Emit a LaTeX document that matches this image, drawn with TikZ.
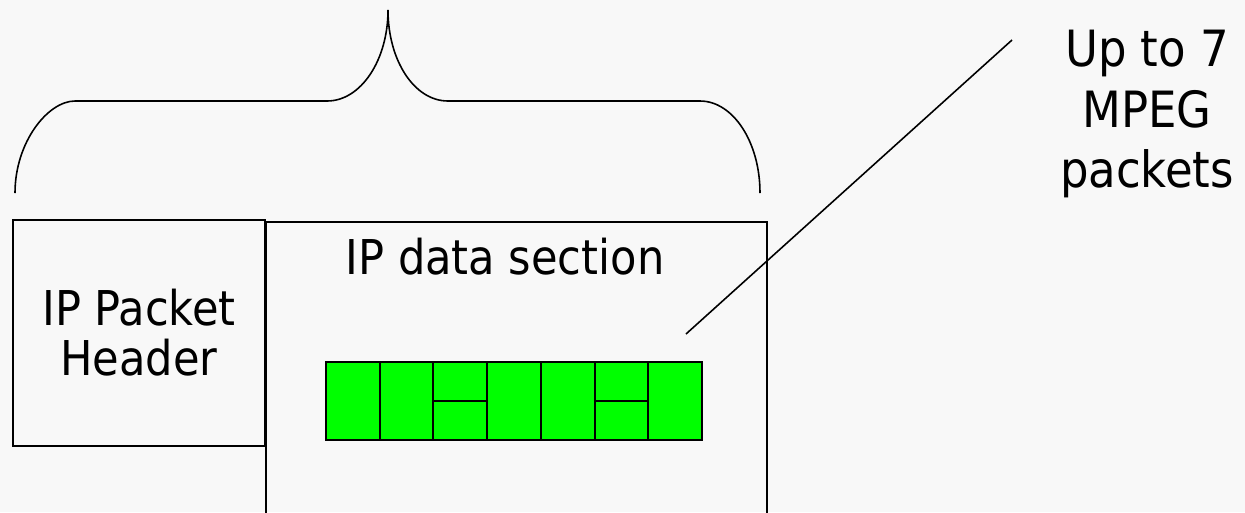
\documentclass[tikz,border=0pt]{standalone}
\usepackage{fontspec}
\setmainfont{DejaVu Sans Condensed}
\definecolor{pagebg}{HTML}{F8F8F8}
\definecolor{mpeggreen}{HTML}{00FF00}
\begin{document}
\begin{tikzpicture}[x=0.02cm, y=-0.02cm, line width=0.9pt,
  txt/.style={font=\fontsize{27.3}{28.45}\selectfont, align=center},
  box/.style={draw, rectangle, inner sep=0pt, txt},
  cell/.style={draw, fill=mpeggreen, rectangle, inner sep=0pt, line width=1.1pt,
    minimum width=1.074cm, minimum height=1.56cm}]
\fill[pagebg] (0,0) rectangle (1245,512);
\useasboundingbox (0,0) rectangle (1245,512);
\node[box, minimum width=5.04cm, minimum height=4.52cm] (hdr) at (139,333) {IP Packet\\Header};
\draw[](266,514) |- (767,222) -- (767,514);
\node[txt] (data) at (505,257) {IP data section};
\foreach \i in {1,...,7}
  \node[cell] (cell\i) at ({326+53.71*(\i-0.5)},401) {};
\draw[line width=1.1pt](cell3.west) -- (cell3.east);
\draw[line width=1.1pt](cell6.west) -- (cell6.east);
\draw[](15,193) .. controls (15,142) and (48,101) .. (75,101) -- (327,101)
  .. controls (361,101) and (388,60) .. (388,10)
  .. controls (388,60) and (414,101) .. (448,101) -- (700,101)
  .. controls (733,101) and (760,142) .. (760,193);
\node[font=\fontsize{28.45}{34.7}\selectfont, align=center] (mpeg) at (1147,114) {Up to 7\\MPEG\\packets};
\coordinate (ptr) at (686,334);
\coordinate (mpegend) at (1012,40);
\draw[](ptr) -- (mpegend);
\end{tikzpicture}
\end{document}
